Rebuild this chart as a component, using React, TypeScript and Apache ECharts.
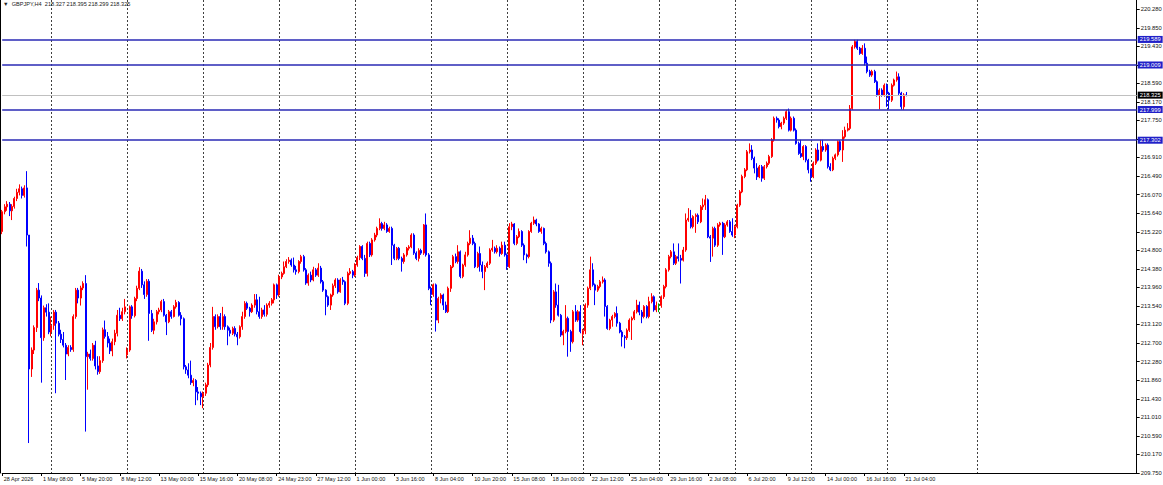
import React, { useEffect, useRef } from "react";
import * as echarts from "echarts";

const symbolTitle = "GBPJPY,H4";
// open, high, low, close of the current bar (header)
const lastBarOHLC = [218.327, 218.395, 218.299, 218.325];

const timeLabels = [
  "28 Apr 2026", "1 May 08:00", "5 May 20:00", "8 May 12:00", "13 May 00:00", "15 May 16:00",
  "20 May 08:00", "24 May 23:00", "27 May 12:00", "1 Jun 00:00", "3 Jun 16:00", "8 Jun 04:00",
  "10 Jun 20:00", "15 Jun 08:00", "18 Jun 00:00", "22 Jun 12:00", "25 Jun 04:00", "29 Jun 16:00",
  "2 Jul 08:00", "6 Jul 20:00", "9 Jul 12:00", "14 Jul 00:00", "16 Jul 16:00", "21 Jul 04:00",
];
const barsPerLabel = 16;
const slotCount = 464;
const weekSeparators = [20, 51, 82, 113, 144, 175, 206, 237, 268, 299, 330, 361, 398];

const priceTicks = [
  209.75, 210.17, 210.59, 211.01, 211.43, 211.86, 212.28, 212.7, 213.12, 213.54, 213.96, 214.38, 214.8,
  215.22, 215.64, 216.07, 216.49, 216.91, 217.33, 217.75, 218.17, 218.59, 219.01, 219.43, 219.85, 220.28,
];
const priceMin = 209.75;
const priceMax = 220.484;

const levelLines = [219.589, 219.009, 217.999, 217.302];
const bidPrice = 218.325;

// [open, close, low, high]
const candles = [
  [215.23,215.68,215.17,215.72],[215.68,215.79,215.62,215.85],[215.79,215.85,215.70,215.92],[215.85,215.70,215.58,215.90],[215.70,215.80,215.49,215.85],
  [215.80,215.98,215.75,216.02],[215.98,216.12,215.92,216.20],[216.12,216.20,216.05,216.30],[216.20,216.05,215.98,216.25],[216.05,216.22,216.00,216.28],
  [216.22,215.15,214.89,216.60],[215.15,212.11,210.43,215.15],[212.11,212.54,211.93,212.60],[212.54,213.05,212.45,213.10],[213.05,213.90,212.95,213.95],
  [213.90,213.72,213.65,214.06],[213.72,212.82,211.80,213.78],[212.82,213.50,212.75,213.55],[213.50,213.40,213.30,213.58],[213.40,212.95,212.90,213.60],
  [212.95,213.10,212.85,213.30],[213.10,213.40,213.00,213.45],[213.40,213.15,211.56,213.45],[213.15,212.90,212.85,213.20],[212.90,212.78,212.70,213.00],
  [212.78,212.65,212.60,212.95],[212.65,212.45,211.86,212.70],[212.45,212.60,212.40,212.65],[212.60,212.55,212.50,212.65],[212.55,213.30,212.50,213.35],
  [213.30,213.90,213.25,213.95],[213.90,213.72,213.60,213.95],[213.72,213.95,213.55,214.00],[213.95,214.05,213.90,214.10],[214.05,212.39,210.69,214.24],
  [212.39,212.45,211.64,212.50],[212.45,212.35,212.30,212.55],[212.35,212.65,212.30,212.70],[212.65,212.18,212.10,212.75],[212.18,212.05,211.98,212.40],
  [212.05,212.30,212.00,212.40],[212.30,213.00,212.25,213.05],[213.00,212.85,212.80,213.21],[212.85,212.70,212.60,212.95],[212.70,212.52,212.45,212.80],
  [212.52,212.73,212.40,212.80],[212.73,212.92,212.65,213.00],[212.92,213.33,212.85,213.45],[213.33,213.25,213.20,213.50],[213.25,213.41,213.20,213.50],
  [213.41,213.52,213.35,213.70],[212.43,212.54,212.35,212.60],[212.54,213.52,212.50,213.55],[213.52,213.32,213.25,213.56],[213.32,213.71,213.28,213.75],
  [213.71,213.94,213.65,214.00],[213.94,214.33,213.90,214.42],[214.33,214.02,213.95,214.38],[214.02,213.80,213.70,214.10],[213.80,214.10,213.75,214.15],
  [214.10,213.37,212.75,214.15],[213.37,212.99,212.95,213.45],[212.99,213.18,212.90,213.25],[213.18,213.41,213.12,213.45],[213.41,213.45,213.35,213.50],
  [213.45,213.64,213.40,213.68],[213.64,213.33,213.30,213.70],[213.33,213.18,212.88,213.36],[213.18,213.41,213.15,213.45],[213.41,213.30,213.25,213.45],
  [213.30,213.52,213.28,213.56],[213.52,213.62,213.48,213.68],[213.62,213.33,213.30,213.65],[213.33,213.25,213.10,213.40],[213.25,212.16,212.10,213.28],
  [212.16,212.09,212.00,212.20],[212.09,211.97,211.90,212.24],[211.97,211.80,211.75,212.30],[211.80,211.85,211.72,211.90],[211.85,211.59,211.29,211.88],
  [211.59,211.56,211.40,211.70],[211.56,211.48,211.29,211.60],[211.48,211.56,211.22,211.60],[211.56,211.75,211.50,211.80],[211.75,212.20,211.70,212.25],
  [212.20,212.60,212.15,212.70],[212.60,213.30,212.55,213.52],[213.30,213.07,213.00,213.35],[213.07,213.30,213.03,213.35],[213.30,213.07,213.00,213.38],
  [213.07,213.30,213.00,213.52],[213.30,213.07,213.00,213.35],[213.07,212.99,212.65,213.10],[212.99,212.92,212.85,213.05],[212.92,213.03,212.88,213.07],
  [213.03,212.90,212.85,213.08],[212.90,212.84,212.65,212.95],[212.84,213.07,212.80,213.10],[213.07,213.30,213.00,213.41],[213.30,213.60,213.25,213.65],
  [213.60,213.49,213.45,213.64],[213.49,213.41,213.30,213.52],[213.41,213.56,213.38,213.60],[213.56,213.68,213.50,213.81],[213.68,213.41,213.35,213.81],
  [213.41,213.30,213.25,213.75],[213.30,213.45,213.25,213.50],[213.45,213.35,213.30,213.56],[213.35,213.56,213.30,213.60],[213.56,213.60,213.50,213.65],
  [213.60,213.68,213.55,213.72],[213.68,214.02,213.60,214.05],[214.02,213.79,213.70,214.05],[213.79,214.20,213.75,214.25],[214.20,214.28,214.15,214.32],
  [214.28,214.43,214.25,214.55],[214.43,214.55,214.40,214.60],[214.55,214.58,214.50,214.65],[214.58,214.47,214.43,214.62],[214.47,214.36,214.30,214.64],
  [214.36,214.32,214.25,214.45],[214.32,214.55,214.28,214.58],[214.55,214.66,214.50,214.70],[214.66,214.36,214.32,214.70],[214.36,214.06,214.02,214.40],
  [214.06,214.24,214.00,214.28],[214.24,214.13,214.08,214.32],[214.13,214.36,214.10,214.43],[214.36,214.24,214.20,214.40],[214.24,214.40,214.20,214.51],
  [214.40,214.09,214.05,214.45],[214.09,213.90,213.86,214.13],[213.90,213.75,213.33,213.92],[213.75,213.56,213.52,213.78],[213.56,213.79,213.45,213.82],
  [213.79,214.00,213.75,214.05],[214.00,214.13,213.95,214.17],[214.13,213.86,213.82,214.17],[213.86,214.13,213.84,214.17],[214.13,214.09,214.02,214.20],
  [214.09,213.60,213.56,214.12],[213.60,214.28,213.56,214.32],[214.28,214.32,214.24,214.40],[214.32,214.24,214.17,214.36],[214.24,214.47,214.20,214.51],
  [214.47,214.64,214.43,214.68],[214.64,214.89,214.58,214.92],[214.89,214.62,214.58,214.92],[214.62,214.28,214.20,214.70],[214.28,214.96,214.21,215.00],
  [214.96,214.70,214.65,215.00],[214.70,215.04,214.66,215.08],[215.04,215.15,215.00,215.20],[215.15,215.30,215.10,215.34],[215.30,215.41,215.26,215.53],
  [215.41,215.30,215.25,215.45],[215.30,215.38,215.26,215.45],[215.38,215.23,215.20,215.42],[215.23,215.30,215.20,215.34],[215.30,214.92,214.47,215.34],
  [214.92,214.62,214.58,214.95],[214.62,214.85,214.58,214.88],[214.85,214.62,214.58,214.88],[214.62,214.55,214.32,214.66],[214.55,214.70,214.50,214.74],
  [214.70,214.85,214.66,214.88],[214.85,214.88,214.80,214.92],[214.88,215.15,214.85,215.19],[215.15,214.74,214.70,215.19],[214.74,214.62,214.58,214.78],
  [214.62,214.80,214.55,214.85],[214.80,214.74,214.70,214.84],[214.74,215.38,214.70,215.40],[215.38,214.70,214.66,215.64],[214.70,213.94,213.90,214.74],
  [213.94,213.80,213.56,213.98],[213.80,214.02,213.75,214.05],[214.02,213.22,212.96,214.05],[213.22,213.71,213.15,213.75],[213.71,213.79,213.60,213.83],
  [213.79,213.56,213.45,213.82],[213.56,213.41,213.38,213.64],[213.41,213.94,213.38,213.98],[213.94,214.43,213.86,214.47],[214.43,214.66,214.40,214.70],
  [214.66,214.55,214.51,214.73],[214.55,214.77,214.50,214.92],[214.77,214.21,214.17,214.80],[214.21,214.47,214.17,214.50],[214.47,214.70,214.43,214.77],
  [214.70,214.96,214.66,215.00],[214.96,215.08,214.92,215.26],[215.08,214.96,214.92,215.15],[214.96,214.43,214.40,215.00],[214.43,214.73,214.40,214.77],
  [214.73,214.47,214.32,214.89],[214.47,214.32,214.17,214.55],[214.32,214.43,213.90,214.47],[214.43,214.51,214.40,214.55],[214.51,214.81,214.47,214.85],
  [214.81,214.85,214.77,215.04],[214.85,214.77,214.73,214.89],[214.77,214.85,214.73,214.92],[214.85,214.73,214.66,214.89],[214.73,214.92,214.70,215.00],
  [214.92,214.70,214.66,215.00],[214.70,214.43,214.36,214.73],[214.43,215.34,214.40,215.42],[215.34,215.40,215.26,215.45],[215.40,214.96,214.92,215.42],
  [214.96,215.11,214.92,215.15],[215.11,215.23,215.08,215.30],[215.23,214.92,214.88,215.26],[214.92,214.70,214.58,214.96],[214.70,214.66,214.51,214.73],
  [214.66,215.23,214.62,215.26],[215.23,215.42,215.20,215.45],[215.42,215.49,215.38,215.57],[215.49,215.40,215.35,215.52],[215.40,215.23,215.20,215.42],
  [215.23,215.30,215.18,215.34],[215.30,214.96,214.92,215.32],[214.96,214.77,214.73,215.00],[214.77,214.51,214.43,214.80],[214.51,213.22,213.15,214.55],
  [213.22,213.86,213.18,213.90],[213.86,213.56,213.50,214.05],[213.56,213.33,213.30,214.02],[213.33,212.88,212.84,213.36],[212.88,212.96,212.65,213.00],
  [212.96,213.26,212.92,213.56],[213.26,212.96,212.39,213.30],[212.96,212.73,212.50,213.00],[212.73,213.41,212.69,213.45],[213.41,213.22,213.18,213.56],
  [213.22,213.41,213.18,213.45],[213.41,212.96,212.92,213.56],[212.90,212.98,212.65,213.02],[212.98,213.56,212.90,213.60],[213.56,213.94,213.50,213.98],
  [213.94,214.36,213.90,214.66],[214.36,214.02,213.98,214.51],[214.02,213.90,213.56,214.05],[213.90,213.98,213.86,214.02],[213.98,214.09,213.94,214.13],
  [214.09,214.13,214.05,214.21],[214.13,213.53,213.30,214.17],[213.53,213.03,213.00,213.56],[213.03,213.22,212.99,213.25],[213.22,213.30,213.07,213.34],
  [213.30,213.37,213.26,213.40],[213.37,213.15,213.07,213.53],[213.15,212.95,212.92,213.18],[212.95,212.84,212.62,212.99],[212.84,212.82,212.58,212.88],
  [212.82,212.99,212.77,213.03],[212.99,213.22,212.95,213.26],[213.22,213.26,212.77,213.30],[213.26,213.41,213.22,213.45],[213.41,213.56,213.37,213.68],
  [213.56,213.40,213.33,213.64],[213.40,213.30,213.15,213.45],[213.30,213.53,213.26,213.56],[213.53,213.30,213.26,213.56],[213.30,213.64,213.26,213.75],
  [213.64,213.75,213.60,213.83],[213.75,213.45,213.41,213.78],[213.45,213.55,213.40,213.64],[213.55,213.55,213.40,213.60],[213.55,213.75,213.50,213.78],
  [213.75,213.98,213.70,214.02],[213.98,214.36,213.94,214.40],[214.36,214.66,214.32,214.70],[214.66,214.77,214.62,214.81],[214.77,214.51,214.47,214.96],
  [214.51,214.66,214.47,214.70],[214.66,214.62,214.55,214.96],[214.62,214.58,214.05,214.70],[214.58,214.81,214.55,214.88],[214.81,215.49,214.77,215.64],
  [215.49,215.53,215.45,215.76],[215.53,215.34,215.30,215.72],[215.34,215.57,215.30,215.60],[215.57,215.60,215.20,215.64],[215.60,215.45,215.40,215.64],
  [215.45,215.79,215.42,215.83],[215.79,215.83,215.72,215.98],[215.83,215.95,215.72,216.06],[215.95,215.11,215.08,215.98],[215.11,215.08,214.54,215.15],
  [215.08,215.30,214.66,215.34],[215.30,214.92,214.88,215.34],[214.92,215.38,214.88,215.42],[215.38,215.42,215.34,215.45],[215.42,215.11,214.70,215.45],
  [215.11,215.38,215.08,215.42],[215.38,215.45,215.34,215.49],[215.45,215.23,215.20,215.49],[215.23,215.15,215.11,215.53],[215.15,215.34,215.08,215.38],
  [215.34,215.83,215.30,215.86],[215.83,216.13,215.79,216.17],[216.13,216.48,216.10,216.52],[216.48,216.63,216.44,216.67],[216.63,217.04,216.60,217.08],
  [217.04,217.08,217.00,217.23],[217.08,216.89,216.85,217.19],[216.89,216.67,216.55,216.93],[216.67,216.47,216.40,216.78],[216.47,216.70,216.44,216.74],
  [216.70,216.44,216.36,216.74],[216.44,216.70,216.40,216.74],[216.70,216.78,216.66,216.82],[216.78,216.93,216.74,216.97],[216.93,217.31,216.90,217.35],
  [217.31,217.80,217.27,217.84],[217.80,217.76,217.70,217.84],[217.76,217.61,217.57,217.80],[217.61,217.69,217.55,217.72],[217.69,217.80,217.65,217.84],
  [217.80,217.95,217.76,217.99],[217.95,217.53,217.50,218.02],[217.53,217.80,217.50,217.84],[217.80,217.53,217.50,217.84],[217.53,217.23,217.20,217.57],
  [217.23,217.00,216.97,217.27],[217.00,216.93,216.90,217.31],[216.93,217.16,216.85,217.19],[217.16,216.85,216.80,217.19],[216.85,216.63,216.55,216.88],
  [216.63,216.47,216.36,216.66],[216.47,216.78,216.44,216.82],[216.78,217.08,216.74,217.12],[217.08,216.85,216.82,217.23],[216.85,217.16,216.82,217.31],
  [217.16,217.08,217.04,217.31],[217.08,217.19,217.04,217.23],[217.19,216.70,216.66,217.23],[216.70,216.63,216.60,216.78],[216.63,216.89,216.60,216.93],
  [216.89,216.97,216.85,217.00],[216.97,217.27,216.93,217.30],[217.27,217.08,217.04,217.30],[217.08,217.38,216.81,217.53],[217.38,217.53,217.34,217.61],
  [217.53,217.57,217.50,217.69],[217.57,218.02,217.53,218.10],[218.02,219.42,217.99,219.46],[219.42,219.54,219.38,219.58],[219.54,219.39,219.35,219.58],
  [219.39,219.27,219.24,219.42],[219.27,219.39,219.24,219.46],[219.39,219.05,219.00,219.50],[219.05,218.86,218.82,219.20],[218.86,218.78,218.74,218.90],
  [218.78,218.86,218.74,218.90],[218.86,218.63,218.60,218.90],[218.63,218.33,218.29,218.66],[218.33,218.44,218.00,218.48],[218.44,218.33,218.29,218.48],
  [218.33,218.55,218.29,218.59],[218.55,218.37,218.06,218.59],[218.37,218.21,218.00,218.40],[218.21,218.55,218.17,218.59],[218.55,218.67,218.52,218.70],
  [218.67,218.74,218.63,218.86],[218.74,218.37,218.33,218.82],[218.37,218.06,218.00,218.40],[218.06,218.33,217.99,218.37],[218.327,218.325,218.299,218.395],
];

const FONT = "'Liberation Sans', Arial, sans-serif";

export default function App() {
  const ref = useRef<HTMLDivElement>(null);

  useEffect(() => {
    if (!ref.current) return;
    const chart = echarts.init(ref.current, undefined, { renderer: "svg" });
    const categories = Array.from({ length: slotCount }, (_, i) => "b" + i);
    const isLabelSlot = (i: number) => i % barsPerLabel === 0 && i / barsPerLabel < timeLabels.length;

    const option: any = {
      animation: false,
      backgroundColor: "#ffffff",
      textStyle: { fontFamily: FONT },
      grid: { left: 2.2, right: 26.3, top: 0, bottom: 12, containLabel: false, outerBoundsMode: "none" },
      xAxis: {
        type: "category",
        data: categories,
        boundaryGap: false,
        axisLine: { show: true, lineStyle: { color: "#000", width: 1 } },
        axisTick: { show: true, interval: (i: number) => isLabelSlot(i), length: 3, lineStyle: { color: "#000" } },
        axisLabel: {
          interval: (i: number) => isLabelSlot(i),
          formatter: (_v: string, i: number) => timeLabels[i / barsPerLabel] ?? "",
          align: "left",
          fontSize: 5.5,
          fontFamily: FONT,
          color: "#111",
          margin: 2.5,
          padding: [0, 0, 0, 1.5],
        },
        splitLine: {
          show: true,
          interval: (i: number) => weekSeparators.includes(i),
          lineStyle: { color: "#404040", width: 1, type: [2, 2] },
        },
      },
      yAxis: [
        {
          type: "value",
          position: "right",
          min: priceMin,
          max: priceMax,
          axisLine: { show: true, lineStyle: { color: "#000", width: 1 } },
          axisTick: { show: true, customValues: priceTicks, length: 3, lineStyle: { color: "#000" } },
          axisLabel: {
            customValues: priceTicks,
            formatter: (v: number) => Number(v).toFixed(3),
            fontSize: 5.8,
            fontFamily: FONT,
            color: "#111",
            margin: 4,
          },
          splitLine: { show: false },
        },
        {
          type: "value",
          position: "left",
          min: priceMin,
          max: priceMax,
          offset: 1.5,
          axisLine: { show: true, lineStyle: { color: "#000", width: 1 } },
          axisTick: { show: false },
          axisLabel: { show: false },
          splitLine: { show: false },
        },
      ],
      graphic: [
        {
          type: "text",
          left: 3,
          top: 0.5,
          style: {
            text: "▼  " + symbolTitle + "  " + lastBarOHLC.map((v) => v.toFixed(3)).join(" "),
            fontSize: 5.6,
            fontFamily: FONT,
            fill: "#222",
          },
          z: 100,
        },
      ],
      series: [
        {
          type: "candlestick",
          data: candles,
          barWidth: 1.5,
          itemStyle: {
            color: "#ff0000",
            color0: "#0000ff",
            borderColor: "#ff0000",
            borderColor0: "#0000ff",
            borderColorDoji: "#00b000",
            borderWidth: 1,
          },
          markLine: {
            symbol: ["none", "none"],
            silent: true,
            animation: false,
            precision: 3,
            label: {
              show: true,
              position: "end",
              distance: 1,
              formatter: (p: any) => Number(p.value).toFixed(3),
              fontSize: 5.8,
              fontFamily: FONT,
              color: "#fff",
              padding: [1, 2, 0, 2],
            },
            data: [
              ...levelLines.map((v) => ({
                yAxis: v,
                lineStyle: { color: "#2a2ab4", width: 1.5, type: "solid" },
                label: { backgroundColor: "#2020c8", color: "#fff" },
              })),
              {
                yAxis: bidPrice,
                lineStyle: { color: "#c0c0c0", width: 1, type: "solid" },
                label: { backgroundColor: "#000", color: "#fff" },
              },
            ],
          },
        },
      ],
    };

    chart.setOption(option);
    return () => chart.dispose();
  }, []);

  return (
    <div
      ref={ref}
      style={{ position: "fixed", left: 0, top: 0, width: 1163, height: 485, background: "#fff" }}
    />
  );
}
